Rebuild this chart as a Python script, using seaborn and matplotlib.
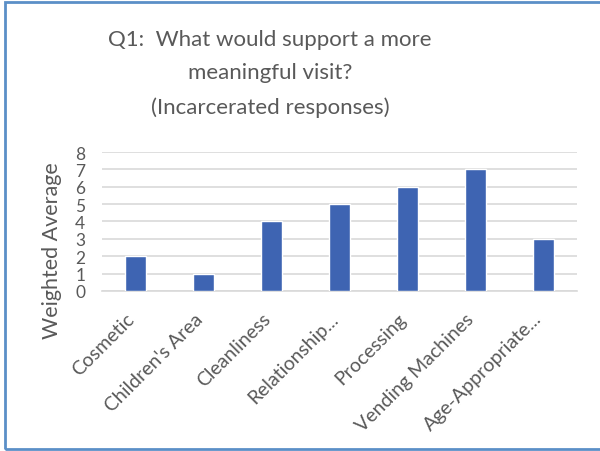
import matplotlib
matplotlib.use("Agg")
import matplotlib.pyplot as plt
import matplotlib.transforms as mtransforms
import seaborn as sns
import pandas as pd
from matplotlib.patches import Rectangle

categories = ["Cosmetic", "Children's Area", "Cleanliness", "Relationship...",
              "Processing", "Vending Machines", "Age-Appropriate..."]
values = [2, 1, 4, 5, 6, 7, 3]
yticks = [0, 1, 2, 3, 4, 5, 6, 7, 8]
title = "Q1:  What would support a more\nmeaningful visit?\n(Incarcerated responses)"
ylabel = "Weighted Average"

sns.set_style("white")
plt.rcParams['font.family'] = ['Lato', 'DejaVu Sans']
txt = "#595959"

df = pd.DataFrame({"cat": categories, "val": values})

fig = plt.figure(figsize=(6, 4.52), dpi=100)
ax = fig.add_axes([0.17, 0.354, 0.7917, 0.3075])
sns.barplot(data=df, x="cat", y="val", color="#3E64B2", width=0.31,
            saturation=1, ax=ax, zorder=3)
ax.set_ylim(0, 8)
ax.set_yticks(yticks)
ax.set_yticklabels([str(t) for t in yticks], fontsize=12.5, color=txt)
ax.grid(axis="y", color="#d9d9d9", linewidth=1.2, zorder=0)
ax.set_axisbelow(True)
for s in ["top", "right", "left"]:
    ax.spines[s].set_visible(False)
ax.spines["bottom"].set_color("#d9d9d9")
ax.spines["bottom"].set_linewidth(1.2)
ax.tick_params(axis="both", length=0)
ax.tick_params(axis="y", pad=12)
ax.tick_params(axis="x", pad=12)
ax.set_xlabel("")
ax.set_ylabel(ylabel, fontsize=15.5, color=txt)
ax.yaxis.set_label_coords(-0.084, 0.30)
ax.set_xticks(range(len(categories)))
ax.set_xticklabels(categories, rotation=45, ha="right", va="top",
                   rotation_mode="anchor", fontsize=14, color=txt)
offset = mtransforms.ScaledTranslation(-0.10, -0.02, fig.dpi_scale_trans)
for lbl in ax.get_xticklabels():
    lbl.set_transform(lbl.get_transform() + offset)

fig.text(0.45, 1 - 74 / 452, title, ha="center", va="center", fontsize=16,
         color=txt, linespacing=1.85)

# frame border
fig.patches.append(Rectangle((5 / 600, 2 / 452), 1.2, 1 - 5 / 452,
                             transform=fig.transFigure, fill=False,
                             edgecolor="#5b8fc7", linewidth=2.0, zorder=10))

fig.savefig("out.png", dpi=100)
